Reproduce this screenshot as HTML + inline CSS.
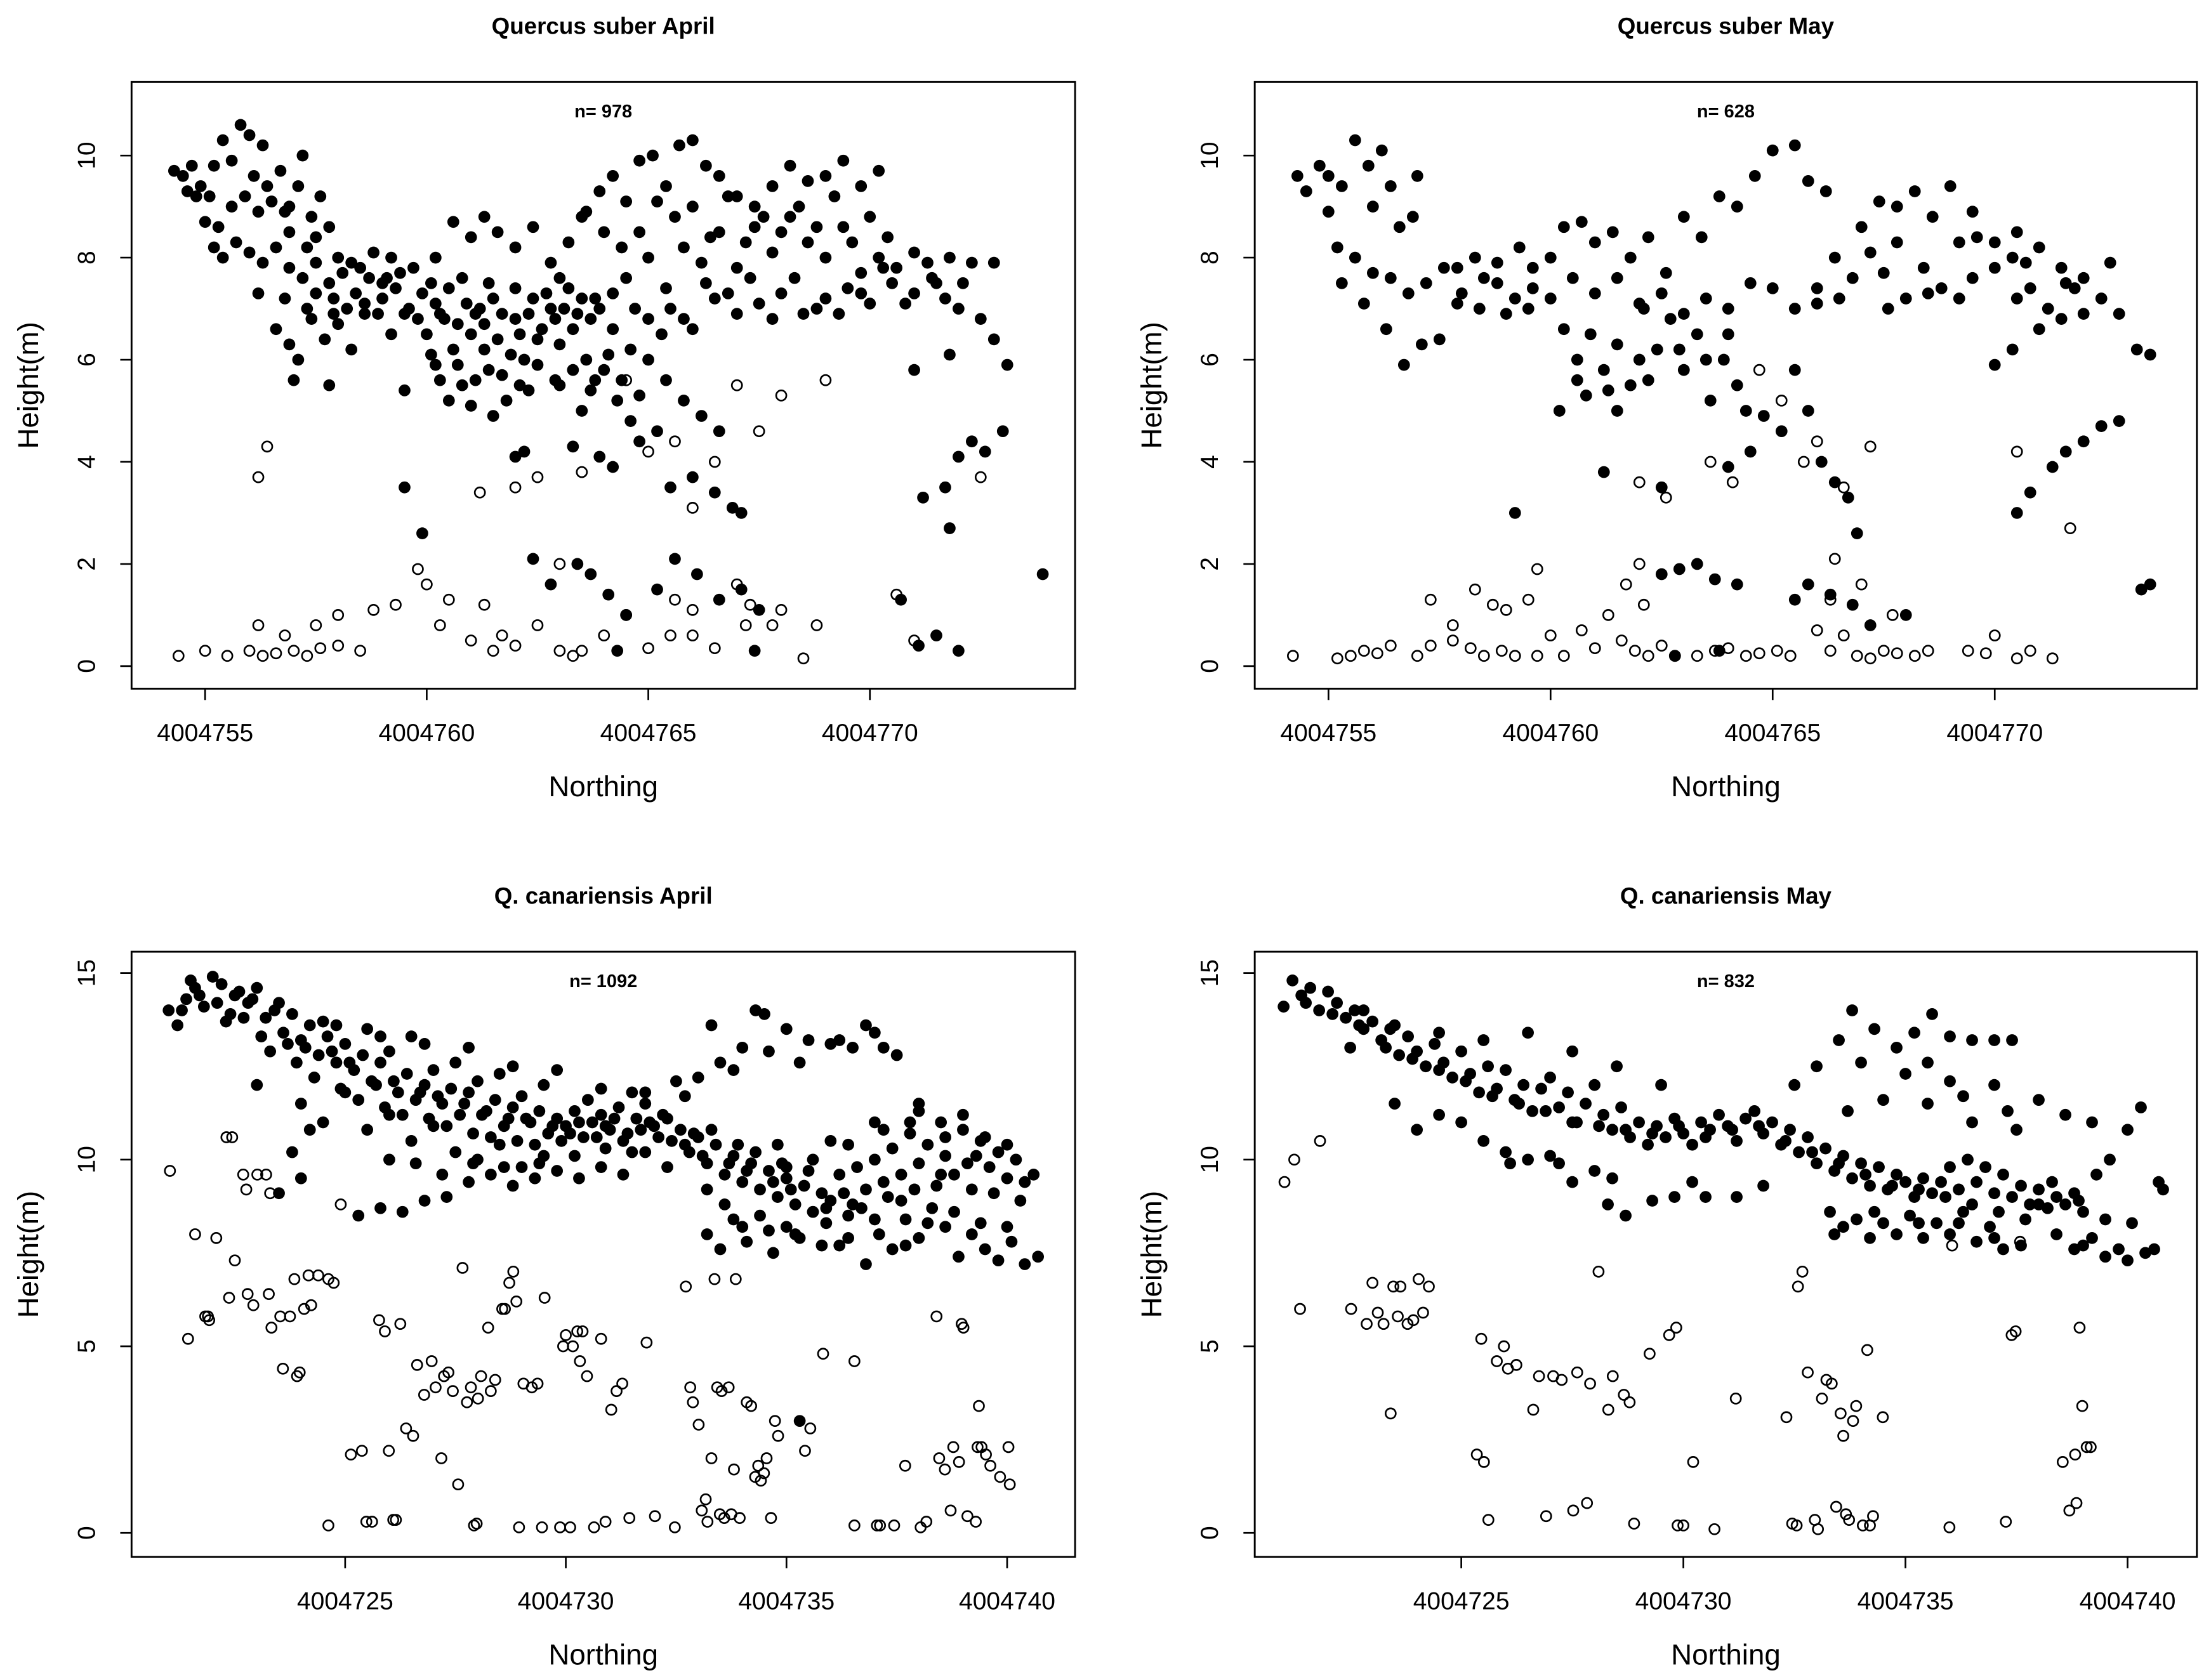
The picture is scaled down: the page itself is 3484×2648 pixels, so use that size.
<!DOCTYPE html>
<html><head><meta charset="utf-8"><style>
html,body{margin:0;padding:0;background:#fff}
svg{display:block}
text{font-family:"Liberation Sans",Arial,sans-serif;fill:#000}
</style></head><body>
<svg id="fig" xmlns="http://www.w3.org/2000/svg" width="3484" height="2648" viewBox="0 0 1563 1188" preserveAspectRatio="none"></svg>
<script>
// Northing values stored as offset from base (4004700); heights in metres
const p1Filled=[[54.3,9.7],[54.5,9.6],[54.7,9.8],[54.9,9.4],[55.1,9.2],[55.2,9.8],[55.4,10.3],[55.6,9.9],[55.8,10.6],[56,10.4],[56.1,9.6],[56.3,10.2],[56.5,9.1],[56.7,9.7],[56.9,9],[57.1,9.4],[57.2,10],[57.4,8.8],[57.6,9.2],[57.8,8.6],[55.6,9],[56.2,8.9],[56.9,8.5],[57.3,8.2],
[54.8,9.2],[55,8.7],[55.2,8.2],[55.4,8],[55.7,8.3],[56,8.1],[56.3,7.9],[56.6,8.2],[56.9,7.8],[57.2,7.6],[57.5,7.9],[57.8,7.5],[58.1,7.7],[58.4,7.3],[58.7,7.6],[59,7.2],[59.3,7.4],[59.6,7],[59.9,7.3],[60.2,7.1],[56.2,7.3],[56.8,7.2],[57.3,7],[57.9,6.9],[58.3,7.9],[58.8,8.1],[59.2,8],[59.7,7.8],
[56.6,6.6],[56.9,6.3],[57.1,6],[57.4,6.8],[57.7,6.4],[58,6.7],[58.3,6.2],[57,5.6],[57.8,5.5],[58.6,6.9],[59.2,6.5],[59.5,5.4],
[60,6.5],[60.2,5.9],[60.4,6.8],[60.6,6.2],[60.8,5.5],[61,6.5],[61.2,7],[61.4,5.8],[61.6,6.4],[61.8,5.2],[62,6.8],[62.2,6],[62.4,7.2],[62.6,6.6],[62.8,7],[63,6.3],[63.2,7.4],[63.4,6.9],[63.6,6],[63.8,5.6],[60.5,5.2],[61,5.1],[61.5,4.9],[62.3,5.4],[63,5.5],[63.5,5],[64,5.8],[64.3,5.2],[64.6,4.8],[60.2,8],[60.6,8.7],[61,8.4],[61.3,8.8],[61.6,8.5],[62,8.2],[62.4,8.6],[62.8,7.9],[63.2,8.3],[63.6,8.9],[64,8.5],[60.8,7.6],[61.4,7.5],[62,7.4],[63,7.6],[63.8,7.2],[64.2,6.6],[64.6,6.2],[65,6],[65.4,5.6],[65.8,5.2],[66.2,4.9],[66.6,4.6],[65.2,4.6],[64.8,4.4],[65.5,3.5],[66,3.7],[66.5,3.4],[66.9,3.1],[67.1,3],[62,4.1],[62.2,4.2],[63.3,4.3],[63.9,4.1],[64.2,3.9],
[63.5,8.8],[63.9,9.3],[64.2,9.6],[64.5,9.1],[64.8,9.9],[65.1,10],[65.4,9.4],[65.7,10.2],[66,10.3],[66.3,9.8],[66.6,9.6],[67,9.2],[67.4,9],[67.8,9.4],[68.2,9.8],[68.6,9.5],[69,9.6],[69.4,9.9],[69.8,9.4],[70.2,9.7],
[64.5,7.6],[65,8],[65.4,7.4],[65.8,8.2],[66.2,7.9],[66.6,8.5],[67,7.8],[67.4,8.6],[67.8,8.1],[68.2,8.8],[68.6,8.3],[69,8],[69.4,8.6],[69.8,7.7],[70.2,8],[70.6,7.8],[71,8.1],[71.4,7.6],[71.8,8],[72.3,7.9],[72.8,7.9],
[65,6.8],[65.5,7],[66,6.6],[66.5,7.2],[67,6.9],[67.5,7.1],[68,7.3],[68.5,6.9],[69,7.2],[69.5,7.4],[70,7.1],[70.5,7.5],[71,7.3],[71.5,7.5],[72,7],[72.5,6.8],[72.8,6.4],[73.1,5.9],[71,5.8],[71.8,6.1],
[71.2,3.3],[71.7,3.5],[72,4.1],[72.3,4.4],[72.6,4.2],[73,4.6],[71.8,2.7],[73.9,1.8],
[59.5,3.5],[59.9,2.6],[62.4,2.1],[62.8,1.6],[63.4,2],[63.7,1.8],[64.1,1.4],[64.3,0.3],[64.5,1],[65.2,1.5],[65.6,2.1],[66.1,1.8],[66.6,1.3],[67.1,1.5],[67.5,1.1],[67.4,0.3],[70.7,1.3],[71.1,0.4],[72,0.3],[71.5,0.6],
[57.5,7.3],[57.9,7.2],[58.2,7],[58.6,7.1],[58.9,6.9],[59.1,7.6],[59.4,7.7],[59.8,6.8],[60.1,7.5],[60.3,6.9],[60.5,7.4],[60.7,6.7],[60.9,7.1],[61.1,6.9],[61.3,6.2],[61.5,7.2],[61.7,6.9],[61.9,6.1],[62.1,6.5],[62.3,6.9],[62.5,6.4],[62.7,7.3],[62.9,6.8],[63.1,7],[63.3,6.6],[63.5,7.2],[63.7,6.8],[63.9,7],[60.1,6.1],[60.3,5.6],[60.7,5.9],[61.1,5.6],[61.3,6.7],[61.7,5.7],[62.1,5.5],[62.5,5.9],[62.9,5.6],[63.3,5.8],[63.7,5.4],[64.1,6.1],[64.4,5.6],[64.8,5.3],[55.9,9.2],[56.4,9.4],[56.8,8.9],[57.5,8.4],[55.3,8.6],[54.6,9.3],[58.5,7.8],[59,7.5],[59.5,6.9],[58,8],[64.4,8.2],[64.8,8.5],[65.2,9.1],[65.6,8.8],[66,9],[66.4,8.4],[66.8,9.2],[67.2,8.3],[67.6,8.8],[68,8.5],[68.4,9],[68.8,8.6],[69.2,9.2],[69.6,8.3],[70,8.8],[70.4,8.4],[64.2,7.3],[64.7,7],[65.3,6.5],[65.8,6.8],[66.3,7.5],[66.8,7.3],[67.3,7.6],[67.8,6.8],[68.3,7.6],[68.8,7],[69.3,6.9],[69.8,7.3],[70.3,7.8],[70.8,7.1],[71.3,7.9],[71.7,7.2],[72.1,7.5]];
const p1Open=[[54.4,0.2],[55,0.3],[55.5,0.2],[56,0.3],[56.3,0.2],[56.6,0.25],[57,0.3],[57.3,0.2],[57.6,0.35],[58,0.4],[56.2,0.8],[56.8,0.6],[57.5,0.8],[58,1],[58.8,1.1],[59.3,1.2],[59.8,1.9],[60,1.6],[60.5,1.3],[61,0.5],[61.5,0.3],[61.3,1.2],[62,0.4],[62.5,0.8],[63,0.3],[63.5,0.3],[64,0.6],[64.5,1],[65,0.35],[65.5,0.6],[66,1.1],[66.5,0.35],[67,1.6],[67.3,1.2],[67.8,0.8],[68,1.1],[68.5,0.15],[68.8,0.8],[70.6,1.4],[71,0.5],[56.2,3.7],[56.4,4.3],[61.2,3.4],[62,3.5],[62.5,3.7],[63.5,3.8],[64.5,5.6],[65,4.2],[65.6,4.4],[66,3.1],[66.5,4],[67,5.5],[67.5,4.6],[68,5.3],[69,5.6],[72.5,3.7],[63,2],[66,0.6],[58.5,0.3],[60.3,0.8],[61.7,0.6],[63.3,0.2],[65.6,1.3],[67.2,0.8]];
const p2Filled=[[54.3,9.6],[54.5,9.3],[54.8,9.8],[55,8.9],[55.3,9.4],[55.6,10.3],[55.9,9.8],[56.2,10.1],[56.4,9.4],[56.6,8.6],[57,9.6],[55.2,8.2],[55.6,8],[56,7.7],[56.4,7.6],[56.8,7.3],[57.2,7.5],[57.6,7.8],[58,7.3],[58.4,7],[58.8,7.5],[59.2,7.2],[59.6,7.4],[55.3,7.5],[55.8,7.1],[56.3,6.6],[56.7,5.9],[57.1,6.3],[57.5,6.4],[57.9,7.8],[58.3,8],[58.8,7.9],[59.3,8.2],[59.6,7.8],[60,8],[60.3,8.6],[60.7,8.7],[61,8.3],[61.4,8.5],[61.8,8],[62.2,8.4],[62.6,7.7],[63,8.8],[63.4,8.4],[63.8,9.2],[64.2,9],[64.6,9.6],[65,10.1],[65.5,10.2],[65.8,9.5],[66.2,9.3],[60,7.2],[60.3,6.6],[60.6,6],[60.9,6.5],[61.2,5.8],[61.5,6.3],[61.8,5.5],[62.1,7],[62.4,6.2],[62.7,6.8],[63,5.8],[63.3,6.5],[63.6,5.2],[63.9,6],[64.2,5.5],[60.2,5],[60.8,5.3],[61.5,5],[62.2,5.6],[64.4,5],[64.8,4.9],[65.2,4.6],[65.5,5.8],[65.8,5],[66.1,4],[66.4,3.6],[66.7,3.3],[66.9,2.6],[59.2,3],[61.2,3.8],[62.5,3.5],[64,3.9],[64.5,4.2],[66,7.4],[66.4,8],[66.8,7.6],[67.2,8.1],[67.6,7],[68,7.2],[68.4,7.8],[68.8,7.4],[69.2,7.2],[69.6,8.4],[70,7.8],[70.4,8],[70.8,7.4],[71.2,7],[71.6,7.5],[72,6.9],[72.4,7.2],[72.8,6.9],[67,8.6],[67.4,9.1],[67.8,8.3],[68.2,9.3],[68.6,8.8],[69,9.4],[69.5,8.9],[70,8.3],[70.5,8.5],[71,8.2],[71.5,7.8],[72,7.6],[72.6,7.9],[65,7.4],[65.5,7],[66,7.1],[70,5.9],[70.4,6.2],[71,6.6],[71.5,6.8],[73.2,6.2],[73.5,6.1],[70.5,3],[70.8,3.4],[71.3,3.9],[71.6,4.2],[72,4.4],[72.4,4.7],[72.8,4.8],[73.3,1.5],[73.5,1.6],[62.5,1.8],[62.9,1.9],[63.3,2],[63.7,1.7],[64.2,1.6],[65.5,1.3],[65.8,1.6],[66.3,1.4],[66.8,1.2],[62.8,0.2],[63.8,0.3],[67.2,0.8],[68,1],
[57.9,7.1],[58.5,7.6],[59,6.9],[59.5,7],[60.5,7.6],[61,7.3],[61.5,7.6],[62,7.1],[62.5,7.3],[63,6.9],[63.5,7.2],[64,7],[64.5,7.5],[60.6,5.6],[61.3,5.4],[62,6],[62.9,6.2],[63.5,6],[64,6.5],[56,9],[55,9.6],[56.9,8.8],[66.5,7.2],[67.5,7.7],[68.5,7.3],[69.5,7.6],[70.5,7.2],[67.8,9],[69.2,8.3],[70.7,7.9],[71.8,7.4]];
const p2Open=[[54.2,0.2],[55.2,0.15],[55.5,0.2],[55.8,0.3],[56.1,0.25],[56.4,0.4],[57,0.2],[57.3,0.4],[57.8,0.5],[58.2,0.35],[58.5,0.2],[58.9,0.3],[59.2,0.2],[59.7,0.2],[57.3,1.3],[57.8,0.8],[58.3,1.5],[58.7,1.2],[59,1.1],[59.5,1.3],[59.7,1.9],[60,0.6],[60.3,0.2],[60.7,0.7],[61,0.35],[61.3,1],[61.6,0.5],[61.9,0.3],[62.2,0.2],[62.5,0.4],[62.8,0.2],[63.3,0.2],[63.7,0.3],[64,0.35],[64.4,0.2],[64.7,0.25],[65.1,0.3],[65.4,0.2],[66,0.7],[66.3,0.3],[66.6,0.6],[66.9,0.2],[67.2,0.15],[67.5,0.3],[67.8,0.25],[68.2,0.2],[68.5,0.3],[69.4,0.3],[69.8,0.25],[70,0.6],[70.5,0.15],[70.8,0.3],[71.3,0.15],[62.1,1.2],[67.7,1],[67,1.6],[66.3,1.3],[62,3.6],[62.6,3.3],[63.6,4],[64.1,3.6],[64.7,5.8],[65.2,5.2],[65.7,4],[66,4.4],[66.6,3.5],[67.2,4.3],[70.5,4.2],[71.7,2.7],[61.7,1.6],[62,2],[66.4,2.1]];
const p3Filled=[[21,14],[21.2,13.6],[21.4,14.3],[21.6,14.6],[21.8,14.1],[22,14.9],[22.2,14.7],[22.4,13.9],[22.6,14.5],[22.8,14.2],[23,14.6],[23.2,13.8],[23.4,14],[23.6,13.4],[23.8,13.9],[24,13.2],[24.2,13.6],[24.4,12.8],[24.6,13.3],[24.8,12.6],[25,13.1],[25.2,12.4],[25.4,12.8],[25.6,12.1],[25.8,12.6],[26,12.9],[26.2,11.8],[26.4,12.3],[26.6,11.6],[26.8,12],[27,12.4],[27.2,11.5],[27.4,11.9],[27.6,11.2],[27.8,11.8],[28,12.1],[28.2,11.3],[28.4,11.6],[28.6,10.9],[28.8,11.4],[29,11.7],[29.2,11],[29.4,11.3],[29.6,10.7],[29.8,11.1],[30,10.9],[30.2,11.3],[30.4,10.6],[30.6,11],[30.8,11.2],[31,10.8],[31.2,11.4],[31.4,10.7],[31.6,11.1],[31.8,11.5],[32,10.9],[32.2,11.2],[32.4,10.5],[32.6,10.8],[32.8,10.2],[33,10.6],[33.2,9.9],[33.4,10.4],[33.6,9.6],[33.8,10.1],[34,9.4],[34.2,9.9],[34.4,9.2],[34.6,9.7],[34.8,9],[35,9.5],[35.2,8.8],[35.4,9.3],[35.6,8.6],[35.8,9.1],[36,8.9],[36.2,9.6],[36.4,8.5],[36.6,9.8],[36.8,9.2],[37,10],[37.2,9.4],[37.4,10.3],[37.6,9.6],[37.8,10.7],[38,9.9],[38.2,10.4],[38.4,9.3],[38.6,10.1],[38.8,9.6],[39,10.8],[39.2,9.2],[39.4,10.5],[39.6,9.8],[39.8,10.2],[40,9.5],[40.2,10],[40.4,9.4],[40.6,9.6],
[21.5,14.8],[22.5,14.4],[23.5,14.2],[24.5,13.7],[25.5,13.5],[26.5,13.3],[27.5,12.6],[28.5,12.3],[29.5,12],[30.5,11.6],[31.5,11.8],[32.5,12.1],[33,12.2],[33.5,12.6],[34,13],[34.5,13.9],[35,13.5],[35.5,13.2],[36,13.1],[36.5,13],[37,13.4],[37.5,12.8],[38,11.3],[38.5,11],[39,11.2],[39.5,10.6],[40,10.4],[33.3,13.6],[34.3,14],[36.8,13.6],
[23,12],[24,11.5],[24.5,11],[25,11.8],[25.5,10.8],[26,11.2],[26.5,10.5],[27,10.9],[27.5,10.2],[28,10],[28.5,10.4],[29,9.8],[29.5,10.1],[25.3,8.5],[25.8,8.7],[26.3,8.6],[26.8,8.9],[27.3,9],[27.8,9.4],[28.3,9.6],[28.8,9.3],[29.3,9.5],[29.8,9.7],[30.3,9.5],[30.8,9.8],[31.3,9.6],[31.8,10.2],[23.5,9.1],[24,9.5],[24.2,10.8],[23.8,10.2],
[33.2,8],[33.5,7.6],[33.8,8.4],[34.1,7.8],[34.4,8.5],[34.7,7.5],[35,8.2],[35.3,7.9],[35.6,8.6],[35.9,8.3],[36.2,7.7],[36.5,8.8],[36.8,7.2],[37.1,8],[37.4,7.6],[37.7,8.4],[38,7.9],[38.3,8.7],[38.6,8.2],[38.9,7.4],[39.2,8],[39.5,7.6],[39.8,7.3],[40.1,7.8],[40.4,7.2],[40.7,7.4],[35,9.8],[36,10.5],[37,11],[38,11.5],[35.3,3],[37.7,7.7],
[21.3,14],[21.7,14.4],[22.1,14.2],[22.3,13.7],[22.7,13.8],[22.9,14.3],[23.1,13.3],[23.3,12.9],[23.7,13.1],[23.9,12.6],[24.1,13],[24.3,12.2],[24.7,12.9],[24.9,11.9],[25.1,12.6],[25.3,11.6],[25.7,12],[25.9,11.4],[26.1,12.1],[26.3,11.2],[26.7,11.8],[26.9,11.1],[27.1,11.7],[27.3,10.9],[27.7,11.5],[27.9,10.7],[28.1,11.2],[28.3,10.6],[28.7,11.1],[28.9,10.5],[29.1,11.1],[29.3,10.4],[29.7,10.9],[29.9,10.5],[30.1,10.7],[30.3,11],[30.7,10.6],[30.9,10.9],[31.1,11.1],[31.3,10.5],[31.7,10.8],[31.9,11],[32.1,10.6],[32.3,11.1],[32.7,10.4],[32.9,10.7],[33.1,10.1],[33.3,10.8],[33.7,9.9],[33.9,10.4],[34.1,9.7],[34.3,10.2],[34.7,9.4],[34.9,9.9],[35.1,9.2],[35.5,9.7],[35.9,8.7],[36.3,9.1],[36.7,8.7],[37.3,9],[37.9,9.2],[38.5,9.6],[39.1,9.9],[39.7,9.1],[40.3,8.9],[26,10],[26.6,9.9],[27.2,9.6],[27.9,9.9],[28.6,9.8],[29.4,9.9],[30.2,10.1],[30.9,10.3],[31.5,10.2],[32.3,9.8],[33.2,9.2],[33.6,8.8],[34,8.2],[34.6,8.1],[35.2,8],[35.8,7.7],[36.4,7.9],[37,8.4],[37.6,8.9],[38.2,8.3],[38.8,8.6],[39.4,8.3],[40,8.2],[34.8,10.4],[35.6,10],[36.4,10.4],[37.2,10.8],[37.8,11],[38.6,10.6],[39.3,10.1],[33.8,12.4],[34.6,12.9],[35.3,12.6],[36.2,13.2],[37.2,13],[32.7,11.7],[31.8,11.8],[30.8,11.9],[29.8,12.4],[28.8,12.5],[27.8,13],[26.8,13.1],[25.8,13.3],[24.8,13.6]];
const p3Open=[[21.03,9.7],[21.44,5.2],[21.89,5.8],[21.6,8],[21.83,5.8],[21.92,5.7],[22.08,7.9],[22.31,10.6],[22.44,10.6],[22.37,6.3],[22.5,7.3],[22.69,9.6],[22.76,9.2],[22.79,6.4],[22.92,6.1],[23.01,9.6],[23.21,9.6],[23.3,9.1],[23.27,6.4],[23.33,5.5],[23.53,5.8],[23.59,4.4],[23.91,4.2],[23.97,4.3],[23.75,5.8],[24.07,6],[24.23,6.1],[23.85,6.8],[24.17,6.9],[24.39,6.9],[24.62,6.8],[24.74,6.7],[24.9,8.8],[24.62,0.2],[25.13,2.1],[25.38,2.2],[25.48,0.3],[25.61,0.3],[25.77,5.7],[25.9,5.4],[25.99,2.2],[26.09,0.35],[26.15,0.35],[26.25,5.6],[26.38,2.8],[26.54,2.6],[26.63,4.5],[26.79,3.7],[26.96,4.6],[27.05,3.9],[27.18,2],[27.24,4.2],[27.34,4.3],[27.44,3.8],[27.56,1.3],[27.66,7.1],[27.76,3.5],[27.85,3.9],[27.92,0.2],[27.98,0.25],[28.01,3.6],[28.08,4.2],[28.24,5.5],[28.3,3.8],[28.4,4.1],[28.56,6],[28.62,6],[28.72,6.7],[28.81,7],[28.88,6.2],[29.04,4],[29.23,3.9],[29.36,4],[29.52,6.3],[28.94,0.15],[29.46,0.15],[29.87,0.15],[29.94,5],[30,5.3],[30.1,0.15],[30.16,5],[30.26,5.4],[30.32,4.6],[30.38,5.4],[30.48,4.2],[30.64,0.15],[30.8,5.2],[30.9,0.3],[31.03,3.3],[31.15,3.8],[31.28,4],[31.44,0.4],[31.83,5.1],[32.02,0.45],[32.47,0.15],[32.72,6.6],[32.82,3.9],[32.88,3.5],[33.01,2.9],[33.08,0.6],[33.17,0.9],[33.21,0.3],[33.3,2],[33.37,6.8],[33.43,3.9],[33.49,0.5],[33.53,3.8],[33.59,0.4],[33.69,3.9],[33.75,0.5],[33.81,1.7],[33.85,6.8],[33.94,0.4],[34.1,3.5],[34.2,3.4],[34.29,1.5],[34.36,1.8],[34.42,1.4],[34.49,1.6],[34.55,2],[34.65,0.4],[34.74,3],[34.81,2.6],[35.42,2.2],[35.54,2.8],[35.83,4.8],[36.54,4.6],[36.54,0.2],[37.05,0.2],[37.12,0.2],[37.44,0.2],[37.69,1.8],[38.04,0.15],[38.17,0.3],[38.4,5.8],[38.46,2],[38.59,1.7],[38.72,0.6],[38.78,2.3],[38.91,1.9],[38.97,5.6],[39.01,5.5],[39.1,0.45],[39.29,0.3],[39.33,2.3],[39.36,3.4],[39.42,2.3],[39.52,2.1],[39.62,1.8],[39.84,1.5],[40.03,2.3],[40.06,1.3]];
const p4Filled=[[21,14.1],[21.2,14.8],[21.4,14.4],[21.6,14.6],[21.8,14],[22,14.5],[22.2,14.2],[22.4,13.8],[22.6,14],[22.8,13.5],[22.5,13],[23,13.7],[23.2,13.2],[23.4,13.5],[23.6,12.8],[23.8,13.3],[24,12.9],[24.2,12.5],[24.4,13.1],[24.6,12.6],[24.8,12.2],[25,12.9],[25.2,12.3],[25.4,11.8],[25.6,12.5],[25.8,11.9],[26,12.4],[26.2,11.6],[26.4,12],[26.6,11.3],[26.8,11.9],[27,12.2],[27.2,11.4],[27.4,11.8],[27.6,11],[27.8,11.5],[28,12],[28.2,11.2],[28.4,10.8],[28.6,11.4],[28.8,10.6],[29,11],[29.2,10.4],[29.4,10.9],[29.6,10.6],[29.8,11.1],[30,10.7],[30.2,10.4],[30.4,11],[30.6,10.8],[30.8,11.2],[31,10.9],[31.2,10.5],[31.4,11.1],[31.6,11.3],[31.8,10.7],[32,11],[32.2,10.4],[32.4,10.8],[32.6,10.2],[32.8,10.6],[33,9.9],[33.2,10.3],[33.4,9.7],[33.6,10.1],[33.8,9.5],[34,9.9],[34.2,9.3],[34.4,9.8],[34.6,9.2],[34.8,9.6],[35,9.4],[35.2,9],[35.4,9.5],[35.6,9.1],[35.8,9.4],[36,9.8],[36.2,9.2],[36.4,10],[36.6,9.4],[36.8,9.8],[37,9.1],[37.2,9.6],[37.4,9],[37.6,9.3],[37.8,8.8],[38,9.2],[38.2,8.7],[38.4,9],[38.6,8.8],[38.8,9.1],[39,8.6],[39.3,9.6],[39.6,10],[40,10.8],[40.3,11.4],[40.7,9.4],[40.8,9.2],
[22.8,14],[23.5,13.6],[24.5,13.4],[25.5,13.2],[26.5,13.4],[27.5,12.9],[28.5,12.5],[29.5,12],[32.5,12],[33,12.5],[33.5,13.2],[33.8,14],[34.3,13.5],[34.8,13],[35.2,13.4],[35.6,13.9],[36,13.3],[36.5,13.2],[37,13.2],[37.4,13.2],[34,12.6],[35,12.3],[36,12.1],[37,12],[38,11.6],[38.6,11.2],[39.2,11],[35.5,11.5],[36.5,11],[37.5,10.8],
[23.5,11.5],[24,10.8],[24.5,11.2],[25,11],[25.5,10.5],[26,10.2],[26.5,10],[27,10.1],[27.5,9.4],[28,9.7],[28.3,8.8],[28.7,8.5],[29.3,8.9],[29.8,9],[30.5,9],[31.2,9],[31.8,9.3],
[33.3,8.6],[33.6,8.2],[33.9,8.4],[34.2,7.9],[34.5,8.3],[34.8,8],[35.1,8.5],[35.4,7.9],[35.7,8.3],[36,8],[36.3,8.6],[36.6,7.8],[36.9,8.2],[37.2,7.6],[37.6,7.7],[38,8.8],[38.4,8],[38.8,7.6],[39.2,7.9],[39.5,7.4],[39.8,7.6],[40,7.3],[40.4,7.5],[40.6,7.6],
[21.5,14.2],[22.1,13.9],[22.7,13.6],[23.3,13],[23.9,12.7],[24.5,12.4],[25.1,12.1],[25.7,11.7],[26.3,11.5],[26.9,11.3],[27.5,11],[28.1,10.9],[28.7,10.8],[29.3,10.7],[29.9,10.9],[30.5,10.6],[31.1,10.8],[31.7,10.9],[32.3,10.5],[32.9,10.2],[33.5,9.9],[34.1,9.6],[34.7,9.3],[35.3,9.2],[35.9,9],[36.5,8.8],[37.1,8.6],[37.7,8.4],[38.3,9.4],[38.9,8.9],[39.5,8.4],[40.1,8.3],[33.7,11.3],[34.5,11.6],[35.5,12.6],[36.3,11.7],[37.3,11.3],[33.4,8],[34.3,8.6],[35.3,8.3],[36.2,8.3],[37,7.9],[39,7.7],[26.1,9.9],[27.2,9.9],[28.4,9.5],[30.2,9.4]];
const p4Open=[[21.02,9.4],[21.24,10],[21.37,6],[21.82,10.5],[22.52,6],[22.87,5.6],[23,6.7],[23.12,5.9],[23.25,5.6],[23.41,3.2],[23.47,6.6],[23.57,5.8],[23.63,6.6],[23.79,5.6],[23.92,5.7],[24.04,6.8],[24.14,5.9],[24.27,6.6],[25.35,2.1],[25.45,5.2],[25.51,1.9],[25.61,0.35],[25.8,4.6],[25.96,5],[26.05,4.4],[26.24,4.5],[26.62,3.3],[26.75,4.2],[26.91,0.45],[27.07,4.2],[27.26,4.1],[27.52,0.6],[27.61,4.3],[27.83,0.8],[27.9,4],[28.09,7],[28.31,3.3],[28.41,4.2],[28.66,3.7],[28.79,3.5],[28.89,0.25],[29.24,4.8],[29.68,5.3],[29.84,5.5],[29.87,0.2],[30,0.2],[30.22,1.9],[30.7,0.1],[31.18,3.6],[32.32,3.1],[32.45,0.25],[32.55,0.2],[32.58,6.6],[32.68,7],[32.8,4.3],[32.96,0.35],[33.03,0.1],[33.12,3.6],[33.22,4.1],[33.34,4],[33.44,0.7],[33.54,3.2],[33.6,2.6],[33.66,0.5],[33.73,0.35],[33.82,3],[33.89,3.4],[34.04,0.2],[34.14,4.9],[34.2,0.2],[34.27,0.45],[34.49,3.1],[35.99,0.15],[36.05,7.7],[37.26,0.3],[37.39,5.3],[37.48,5.4],[37.58,7.8],[38.54,1.9],[38.69,0.6],[38.82,2.1],[38.85,0.8],[38.92,5.5],[38.98,3.4],[39.08,2.3],[39.17,2.3]];
const xTicks12=[55,60,65,70], yTicks12=[0,2,4,6,8,10];
const xTicks34=[25,30,35,40], yTicks34=[0,5,10,15];
const titles=["Quercus suber April","Quercus suber May","Q. canariensis April","Q. canariensis May"];
const counts=["n= 978","n= 628","n= 1092","n= 832"];
const BASE=4004700;

const NS="http://www.w3.org/2000/svg";
const svg=document.getElementById('fig');
function mk(tag,attrs,parent){const e=document.createElementNS(NS,tag);for(const k in attrs)e.setAttribute(k,attrs[k]);(parent||svg).appendChild(e);return e;}

const panels=[
 {L:93,R:760,T:58,B:487,xmin:53.34,xmax:74.63,ymin:-0.443,ymax:11.44,filled:p1Filled,open:p1Open,xt:xTicks12,yt:yTicks12},
 {L:887,R:1553,T:58,B:487,xmin:53.34,xmax:74.55,ymin:-0.443,ymax:11.44,filled:p2Filled,open:p2Open,xt:xTicks12,yt:yTicks12},
 {L:93,R:760,T:673,B:1101,xmin:20.16,xmax:41.54,ymin:-0.644,ymax:15.57,filled:p3Filled,open:p3Open,xt:xTicks34,yt:yTicks34},
 {L:887,R:1553,T:673,B:1101,xmin:20.35,xmax:41.56,ymin:-0.644,ymax:15.57,filled:p4Filled,open:p4Open,xt:xTicks34,yt:yTicks34}
];
panels.forEach((p,i)=>{
 const g=mk('g',{});
 
 
 const sx=v=>p.L+(v-p.xmin)/(p.xmax-p.xmin)*(p.R-p.L);
 const sy=v=>p.B-(v-p.ymin)/(p.ymax-p.ymin)*(p.B-p.T);
 const cx=(p.L+p.R)/2;
 const t=mk('text',{x:cx,y:p.T-34,'text-anchor':'middle','font-size':16.5,'font-weight':'bold'},g);t.textContent=titles[i];
 
 
 const n=mk('text',{x:cx,y:p.T+25,'text-anchor':'middle','font-size':13,'font-weight':'bold'},g);n.textContent=counts[i];
 
 
 const box=mk('rect',{x:p.L,y:p.T,width:p.R-p.L,height:p.B-p.T,fill:'none',stroke:'#000','stroke-width':1.3},g);
 
 
 p.xt.forEach(v=>{const X=sx(v);
  mk('line',{x1:X,x2:X,y1:p.B,y2:p.B+8,stroke:'#000','stroke-width':1.2},g);
  const l=mk('text',{x:X,y:p.B+37,'text-anchor':'middle','font-size':17.5},g);l.textContent=String(BASE+v);
  
  });
 p.yt.forEach(v=>{const Y=sy(v);
  mk('line',{x1:p.L-8,x2:p.L,y1:Y,y2:Y,stroke:'#000','stroke-width':1.2},g);
  const l=mk('text',{x:0,y:0,'text-anchor':'middle','font-size':17.5,transform:`translate(${p.L-26},${Y}) rotate(-90)`},g);l.textContent=String(v);
  
  });
 const xl=mk('text',{x:cx,y:p.B+76,'text-anchor':'middle','font-size':20.5},g);xl.textContent='Northing';
 
 
 const yl=mk('text',{x:0,y:0,'text-anchor':'middle','font-size':20.5,transform:`translate(${p.L-66},${(p.T+p.B)/2}) rotate(-90)`},g);yl.textContent='Height(m)';
 
 
 p.open.forEach(d=>{const c=mk('circle',{cx:sx(d[0]),cy:sy(d[1]),r:3.6,fill:'none',stroke:'#000','stroke-width':1.2},g);
  
  });
 p.filled.forEach(d=>{const c=mk('circle',{cx:sx(d[0]),cy:sy(d[1]),r:4.2,fill:'#000'},g);
  
  });
});
</script>
</body></html>
